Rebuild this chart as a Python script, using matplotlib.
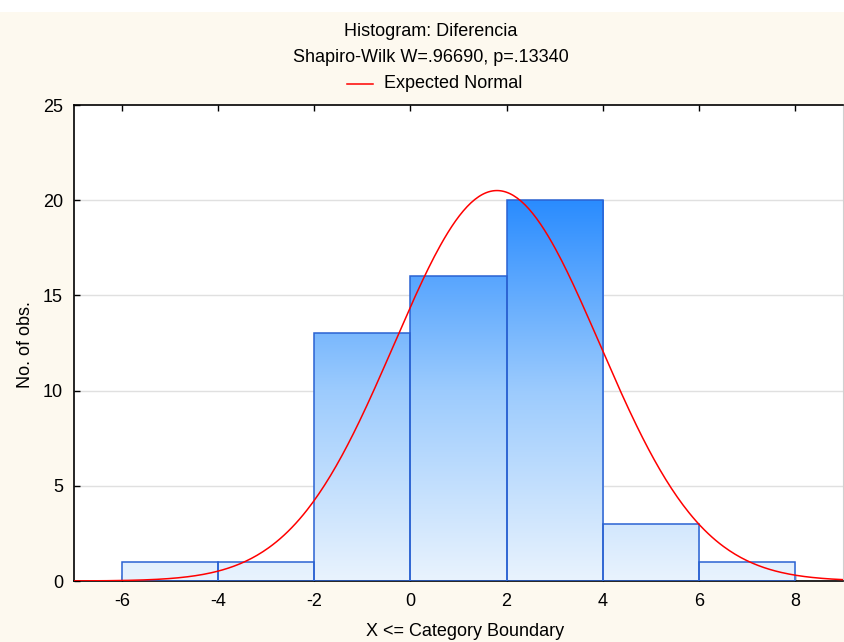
import numpy as np
import matplotlib.pyplot as plt
from matplotlib.colors import LinearSegmentedColormap

plt.rcParams['font.family'] = ['Liberation Sans', 'DejaVu Sans']
plt.rcParams['axes.unicode_minus'] = False

# bin edges and counts
edges = [-6, -4, -2, 0, 2, 4, 6, 8]
counts = [1, 1, 13, 16, 20, 3, 1]
# expected normal parameters
mean = 1.8
sd = 2.14
n_obs = sum(counts)
bin_w = 2

xticks = [-6, -4, -2, 0, 2, 4, 6, 8]
yticks = [0, 5, 10, 15, 20, 25]

fs = 13
bg = '#fdf9ef'
fig = plt.figure(figsize=(8.44, 6.42), dpi=100)
fig.patch.set_facecolor(bg)
# white strip at top
fig.add_artist(plt.Rectangle((0, 1 - 12 / 642), 1, 12 / 642, transform=fig.transFigure,
                             facecolor='white', edgecolor='none', zorder=-1))

ax = fig.add_axes([74 / 844, 1 - 581 / 642, (843 - 74) / 844, (581 - 105) / 642])
ax.set_facecolor('white')

for y in yticks[1:-1]:
    ax.axhline(y, color='#e0e0e0', lw=1, zorder=0)

cmap = LinearSegmentedColormap.from_list('blues', ['#e9f3fe', '#9ccbfd', '#2a8cff'])
grad = np.linspace(0, 1, 256).reshape(-1, 1)
for i, c in enumerate(counts):
    left = edges[i]
    rect = plt.Rectangle((left, 0), bin_w, c, facecolor='none',
                         edgecolor='#2a62d2', lw=1.1, zorder=3)
    ax.add_patch(rect)
    im = ax.imshow(grad, cmap=cmap, origin='lower', aspect='auto',
                   extent=[-7, 9, 0, 20], zorder=2, vmin=0, vmax=1)
    im.set_clip_path(rect)

xs = np.linspace(-7, 9, 400)
ys = n_obs * bin_w / (sd * np.sqrt(2 * np.pi)) * np.exp(-0.5 * ((xs - mean) / sd) ** 2)
ax.plot(xs, ys, color='#ff0000', lw=1.1, zorder=4)
ax.set_xlim(-7, 9)
ax.set_ylim(0, 25)

ax.set_xticks(xticks)
ax.set_yticks(yticks)
ax.tick_params(direction='in', length=4, width=1, labelsize=fs, top=True)
ax.tick_params(axis='x', pad=9)
ax.tick_params(axis='y', pad=8)
for s in ['left', 'top', 'bottom']:
    ax.spines[s].set_color('black')
    ax.spines[s].set_linewidth(1.2)
ax.spines['right'].set_color('#d0d0d0')

fig.text(25 / 844, 1 - 345 / 642, 'No. of obs.', ha='center', va='center', rotation=90, fontsize=fs)
fig.text(465 / 844, 1 - 631 / 642, 'X <= Category Boundary', ha='center', va='center', fontsize=fs)

cx = 431 / 844
fig.text(cx, 1 - 32 / 642, 'Histogram: Diferencia', ha='center', va='center', fontsize=fs)
fig.text(cx, 1 - 58 / 642, 'Shapiro-Wilk W=.96690, p=.13340', ha='center', va='center', fontsize=fs)
fig.lines.append(plt.Line2D([347 / 844, 373 / 844], [1 - 84 / 642] * 2, transform=fig.transFigure,
                            color='#ff0000', lw=1.1))
fig.text(384 / 844, 1 - 84 / 642, 'Expected Normal', ha='left', va='center', fontsize=fs)

fig.savefig('out.png', dpi=100, facecolor=bg)
